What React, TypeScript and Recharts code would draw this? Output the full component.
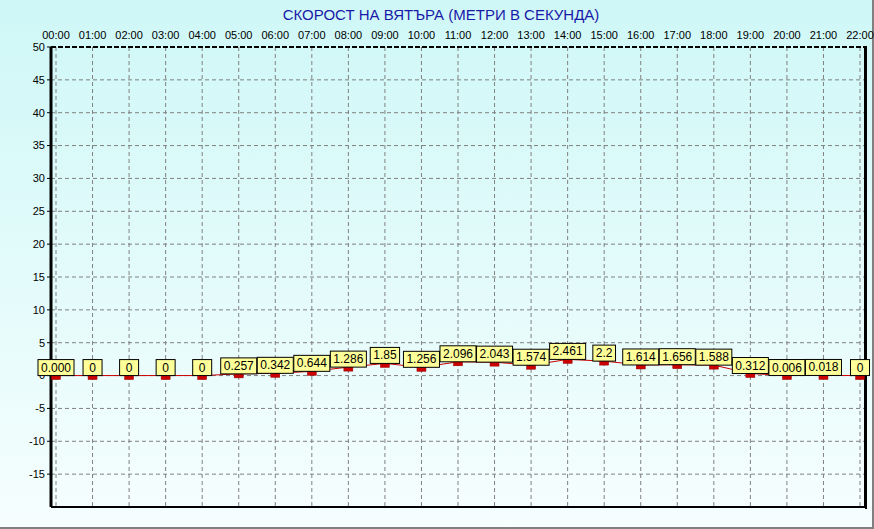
import { LineChart, Line, XAxis, YAxis, CartesianGrid, ReferenceLine, LabelList } from "recharts";

const hours = [
  "00:00", "01:00", "02:00", "03:00", "04:00", "05:00", "06:00", "07:00", "08:00", "09:00", "10:00", "11:00",
  "12:00", "13:00", "14:00", "15:00", "16:00", "17:00", "18:00", "19:00", "20:00", "21:00", "22:00",
];
const speed = [
  0, 0, 0, 0, 0, 0.257, 0.342, 0.644, 1.286, 1.85, 1.256, 2.096,
  2.043, 1.574, 2.461, 2.2, 1.614, 1.656, 1.588, 0.312, 0.006, 0.018, 0,
];
const speedLabels = [
  "0.000", "0", "0", "0", "0", "0.257", "0.342", "0.644", "1.286", "1.85", "1.256", "2.096",
  "2.043", "1.574", "2.461", "2.2", "1.614", "1.656", "1.588", "0.312", "0.006", "0.018", "0",
];
const yTicks = [-15, -10, -5, 0, 5, 10, 15, 20, 25, 30, 35, 40, 45, 50];

const data = hours.map((h, i) => ({ hour: h, speed: speed[i] }));

const FONT = "Arial, 'Liberation Sans', sans-serif";

const textWidth = (s: string) =>
  s.split("").reduce((w, c) => w + (c === "." ? 3.34 : 6.67), 0);

// yellow value box sitting on top of each point
const ValueBox = (props: any) => {
  const { x, y, index } = props;
  const label = speedLabels[index];
  const w = Math.max(19, textWidth(label) + 6);
  const h = 16;
  return (
    <g>
      <rect x={x - w / 2} y={y - h} width={w} height={h} fill="#ffff99" stroke="#000" strokeWidth={1} />
      <text x={x} y={y - 4} textAnchor="middle" fontFamily={FONT} fontSize={12} fill="#000">
        {label}
      </text>
    </g>
  );
};

const Marker = (props: any) => {
  const { cx, cy, index } = props;
  return <rect key={index} x={cx - 4.5} y={cy - 4} width={9} height={8} fill="#cc0000" stroke="#990000" strokeWidth={0.5} />;
};

export default function App() {
  return (
    <div
      style={{
        position: "absolute",
        left: 0,
        top: 0,
        width: 874,
        height: 529,
        boxSizing: "border-box",
        borderRight: "2px solid #808080",
        borderBottom: "2px solid #808080",
        background: "linear-gradient(to bottom, #cff7f7 0%, #f6fefe 100%)",
        fontFamily: FONT,
      }}
    >
      <div
        style={{
          position: "absolute",
          left: 4,
          top: 6,
          width: 874,
          textAlign: "center",
          fontSize: 15,
          color: "#1a1aa8",
        }}
      >
        СКОРОСТ НА ВЯТЪРА (МЕТРИ В СЕКУНДА)
      </div>
      {/* right edge of the plot frame, kept under the svg so labels cover it */}
      <div
        style={{
          position: "absolute",
          left: 865,
          top: 46,
          width: 2,
          height: 463,
          background: "#000",
        }}
      />
      <div style={{ position: "absolute", left: 0, top: 0 }}>
        <LineChart width={874} height={529} data={data} margin={{ top: 27, right: 8, bottom: 21, left: 5 }}>
          <CartesianGrid xAxisId="top" yAxisId="left" stroke="#808080" strokeDasharray="4 3" />
          <XAxis
            xAxisId="top"
            dataKey="hour"
            orientation="top"
            height={20}
            padding={{ left: 5, right: 5 }}
            interval={0}
            axisLine={false}
            tickLine={false}
            tickMargin={2}
            tick={{ fontSize: 11, fill: "#000", fontFamily: FONT }}
          />
          <XAxis
            xAxisId="bottom"
            dataKey="hour"
            orientation="bottom"
            height={1}
            padding={{ left: 5, right: 5 }}
            tick={false}
            tickLine={false}
            axisLine={{ stroke: "#000", strokeWidth: 2 }}
          />
          <YAxis
            yAxisId="left"
            width={46}
            domain={[-20, 50]}
            ticks={yTicks}
            interval={0}
            axisLine={{ stroke: "#000", strokeWidth: 3 }}
            tickLine={{ stroke: "#000" }}
            tickSize={4}
            tickMargin={2}
            tick={{ fontSize: 11, fill: "#000", fontFamily: FONT }}
          />
          <YAxis
            yAxisId="right"
            orientation="right"
            width={1}
            domain={[-20, 50]}
            tick={false}
            tickLine={false}
            axisLine={{ stroke: "#000", strokeWidth: 2 }}
          />
          <ReferenceLine xAxisId="top" yAxisId="left" y={50} stroke="#000" strokeWidth={2} strokeDasharray="5 2" />
          <Line
            xAxisId="top"
            yAxisId="left"
            type="linear"
            dataKey="speed"
            stroke="#cc0000"
            strokeWidth={1}
            dot={<Marker />}
            activeDot={false}
            isAnimationActive={false}
          >
            <LabelList dataKey="speed" content={<ValueBox />} />
          </Line>
        </LineChart>
      </div>
    </div>
  );
}
